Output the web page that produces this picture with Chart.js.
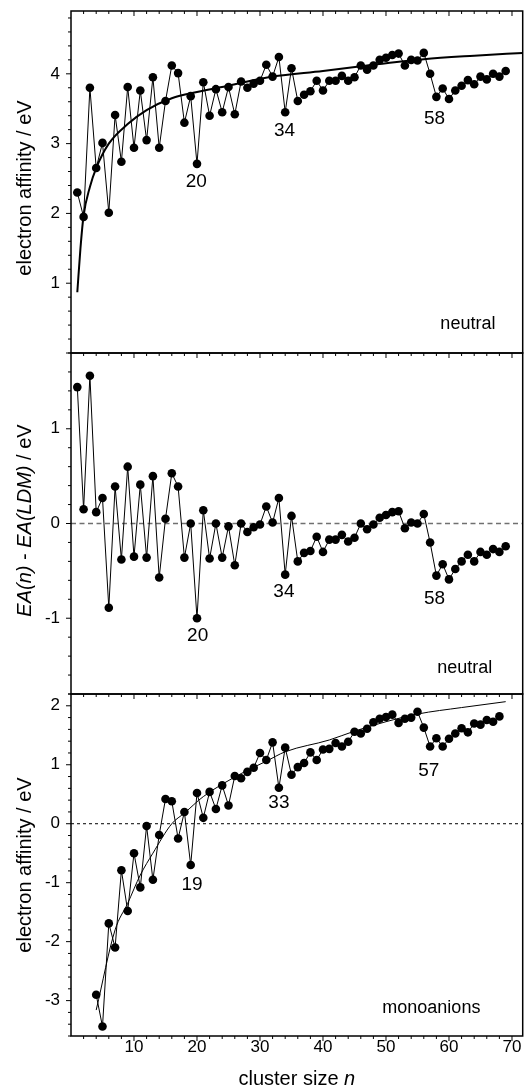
<!DOCTYPE html>
<html>
<head>
<meta charset="utf-8">
<title>Electron affinities of clusters</title>
<script src="https://cdn.jsdelivr.net/npm/chart.js@4.4.1/dist/chart.umd.min.js"></script>
<style>
  html, body { margin: 0; padding: 0; background: #fff; }
  #figure { position: relative; width: 527px; height: 1092px; overflow: hidden; background: #fff; }
  #figure canvas { position: absolute; left: 0; }
</style>
</head>
<body>
<div id="figure">
  <canvas id="neutralChart" width="527" height="362" style="top:0px"></canvas>
  <canvas id="diffChart" width="527" height="352" style="top:348px"></canvas>
  <canvas id="anionChart" width="527" height="403" style="top:689px"></canvas>
</div>
<script>
// cluster size n
const clusterSize = [1, 2, 3, 4, 5, 6, 7, 8, 9, 10,
    11, 12, 13, 14, 15, 16, 17, 18, 19, 20,
    21, 22, 23, 24, 25, 26, 27, 28, 29, 30,
    31, 32, 33, 34, 35, 36, 37, 38, 39, 40,
    41, 42, 43, 44, 45, 46, 47, 48, 49, 50,
    51, 52, 53, 54, 55, 56, 57, 58, 59, 60,
    61, 62, 63, 64, 65, 66, 67, 68, 69];

// electron affinity of the neutral clusters (eV), n = 1..69
const neutralEA = [2.30, 1.95, 3.80, 2.65, 3.01, 2.01, 3.41, 2.74, 3.81, 2.94,
    3.76, 3.05, 3.95, 2.94, 3.61, 4.12, 4.01, 3.30, 3.68, 2.71,
    3.88, 3.40, 3.78, 3.45, 3.81, 3.42, 3.89, 3.80, 3.86, 3.90,
    4.13, 3.96, 4.24, 3.45, 4.08, 3.61, 3.70, 3.75, 3.90, 3.76,
    3.90, 3.90, 3.97, 3.90, 3.95, 4.12, 4.06, 4.12, 4.20, 4.23,
    4.27, 4.29, 4.12, 4.20, 4.19, 4.30, 4.00, 3.67, 3.79, 3.64,
    3.76, 3.83, 3.91, 3.85, 3.96, 3.92, 4.00, 3.96, 4.04];

// EA(n) - EA(LDM) for the neutrals (eV), n = 1..69
const neutralDiff = [1.44, 0.15, 1.56, 0.12, 0.27, -0.89, 0.39, -0.38, 0.60, -0.35,
    0.41, -0.36, 0.50, -0.57, 0.05, 0.53, 0.39, -0.36, 0.00, -1.00,
    0.14, -0.37, 0.00, -0.36, -0.03, -0.44, 0.00, -0.09, -0.04, -0.01,
    0.18, 0.01, 0.27, -0.54, 0.08, -0.40, -0.31, -0.29, -0.14, -0.30,
    -0.17, -0.17, -0.12, -0.19, -0.15, 0.00, -0.06, -0.01, 0.06, 0.09,
    0.12, 0.13, -0.05, 0.01, 0.00, 0.10, -0.20, -0.55, -0.43, -0.59,
    -0.48, -0.40, -0.33, -0.40, -0.30, -0.33, -0.27, -0.30, -0.24];

// electron affinity of the monoanions (eV), n = 4..68
const anionSize = clusterSize.slice(3, 68);
const anionEA = [-2.90, -3.44, -1.69, -2.10, -0.79, -1.48, -0.50, -1.08, -0.04, -0.95,
    -0.19, 0.42, 0.38, -0.25, 0.20, -0.70, 0.52, 0.10, 0.54, 0.25,
    0.65, 0.31, 0.81, 0.77, 0.88, 0.95, 1.20, 1.08, 1.38, 0.61,
    1.29, 0.83, 0.96, 1.03, 1.21, 1.08, 1.26, 1.27, 1.37, 1.31,
    1.39, 1.56, 1.53, 1.61, 1.72, 1.78, 1.81, 1.85, 1.71, 1.78,
    1.80, 1.90, 1.63, 1.31, 1.45, 1.31, 1.44, 1.53, 1.62, 1.55,
    1.70, 1.68, 1.76, 1.73, 1.82];

// liquid drop model curves
const ldmNeutralN  = [1, 1.5, 2, 3, 4, 6, 9, 12, 16, 20, 25, 32, 40, 47, 56, 64, 71.7];
const ldmNeutralEA = [0.87, 1.50, 1.97, 2.38, 2.65, 3.00, 3.28, 3.48, 3.65, 3.74, 3.83, 3.96, 4.04, 4.12, 4.21, 4.26, 4.30];
const ldmAnionN  = [4, 7, 9, 11, 13, 16, 18, 21, 27, 31, 34, 41, 45, 50, 55, 62, 69];
const ldmAnionEA = [-3.16, -1.80, -1.35, -0.87, -0.50, 0.00, 0.18, 0.46, 0.85, 1.06, 1.22, 1.42, 1.57, 1.73, 1.86, 1.97, 2.07];

// tick labels
const xTickLabels = [10, 20, 30, 40, 50, 60, 70];
const neutralTicks = [1, 2, 3, 4];
const diffTicks = [-1, 0, 1];
const anionTicks = [-3, -2, -1, 0, 1, 2];

// magic numbers and panel tags
const neutralNotes = [
    { text: '20', n: 19.9, v: 2.46 },
    { text: '34', n: 33.9, v: 3.19 },
    { text: '58', n: 57.7, v: 3.35 },
    { text: 'neutral', n: 63.0, v: 0.42, tag: true }
];
const diffNotes = [
    { text: '20', n: 20.1, v: -1.18 },
    { text: '34', n: 33.8, v: -0.725 },
    { text: '58', n: 57.7, v: -0.795 },
    { text: 'neutral', n: 62.5, v: -1.527, tag: true }
];
const anionNotes = [
    { text: '19', n: 19.2, v: -1.04 },
    { text: '33', n: 33.0, v: 0.35 },
    { text: '57', n: 56.8, v: 0.90 },
    { text: 'monoanions', n: 57.2, v: -3.13, tag: true }
];

const X_MIN = 0;
const X_MAX = 71.7;
const FONT = '"Liberation Sans", Arial, Helvetica, sans-serif';

Chart.defaults.font.family = FONT;
Chart.defaults.color = '#000';

function toPoints(xs, ys) {
    return ys.map(function(y, i) { return { x: xs[i], y: y }; });
}

/**
 * Frame around the plot area plus major/minor tick marks
 */
const framePlugin = {
    id: 'frame',
    afterDraw: function(chart, args, opts) {
        const ctx = chart.ctx;
        const a = chart.chartArea;
        const x = chart.scales.x;
        const y = chart.scales.y;
        ctx.save();
        ctx.strokeStyle = '#000';
        ctx.lineWidth = 1;
        ctx.beginPath();
        // left axis, ticks pointing out
        for (let k = Math.ceil(y.min / 0.2 - 1e-6); k * 0.2 <= y.max + 1e-6; k++) {
            const v = k * 0.2;
            const major = Math.abs(v - Math.round(v)) < 1e-6;
            const py = y.getPixelForValue(v);
            ctx.moveTo(a.left, py);
            ctx.lineTo(a.left - (major ? 5 : 3), py);
        }
        // bottom ticks out, top ticks in
        for (let k = 1; k * 2 < x.max; k++) {
            const major = (k % 5 === 0);
            const px = x.getPixelForValue(k * 2);
            const len = major ? 5 : 3;
            ctx.moveTo(px, a.bottom);
            ctx.lineTo(px, a.bottom + len);
            if (opts.topTicks) {
                ctx.moveTo(px, a.top);
                ctx.lineTo(px, a.top + len);
            }
        }
        ctx.stroke();
        ctx.lineWidth = 1.5;
        ctx.strokeRect(a.left, a.top, a.right - a.left, a.bottom - a.top);
        ctx.restore();
    }
};

function drawRichText(ctx, parts, size) {
    let total = 0;
    parts.forEach(function(p) {
        ctx.font = (p.italic ? 'italic ' : '') + size + 'px ' + FONT;
        p.w = ctx.measureText(p.text).width;
        total += p.w;
    });
    let cx = -total / 2;
    parts.forEach(function(p) {
        ctx.font = (p.italic ? 'italic ' : '') + size + 'px ' + FONT;
        ctx.fillText(p.text, cx, 0);
        cx += p.w;
    });
}

/**
 * Axis titles and the in-plot annotations
 */
const textPlugin = {
    id: 'panelText',
    afterDraw: function(chart, args, opts) {
        const ctx = chart.ctx;
        const a = chart.chartArea;
        const x = chart.scales.x;
        const y = chart.scales.y;
        ctx.save();
        ctx.fillStyle = '#000';
        ctx.textAlign = 'left';
        ctx.textBaseline = 'middle';

        // y title, rotated
        ctx.save();
        ctx.translate(25, (a.top + a.bottom) / 2 + (opts.titleShift || 0));
        ctx.rotate(-Math.PI / 2);
        drawRichText(ctx, opts.yTitle, 20);
        ctx.restore();

        if (opts.xTitle) {
            ctx.save();
            ctx.textBaseline = 'alphabetic';
            ctx.translate((a.left + a.right) / 2, opts.xTitleY);
            drawRichText(ctx, opts.xTitle, 20);
            ctx.restore();
        }

        ctx.textAlign = 'center';
        (opts.notes || []).forEach(function(note) {
            ctx.font = (note.tag ? 18 : 19) + 'px ' + FONT;
            ctx.fillText(note.text, x.getPixelForValue(note.n), y.getPixelForValue(note.v));
        });
        ctx.restore();
    }
};

function makePanel(canvasId, cfg) {
    const datasets = [{
        data: toPoints(cfg.n, cfg.values),
        showLine: true,
        borderColor: '#000',
        borderWidth: 1,
        tension: 0,
        pointRadius: 4.3,
        pointBackgroundColor: '#000',
        pointBorderWidth: 0
    }];
    if (cfg.fit) {
        datasets.push({
            data: toPoints(cfg.fit.n, cfg.fit.values),
            showLine: true,
            borderColor: '#000',
            borderWidth: cfg.fit.width,
            cubicInterpolationMode: 'monotone',
            pointRadius: 0
        });
    }
    if (cfg.zero) {
        datasets.push({
            data: [{ x: X_MIN, y: 0 }, { x: X_MAX, y: 0 }],
            showLine: true,
            borderColor: cfg.zero.color,
            borderWidth: cfg.zero.width,
            borderDash: cfg.zero.dash,
            pointRadius: 0
        });
    }

    return new Chart(document.getElementById(canvasId), {
        type: 'scatter',
        data: { datasets: datasets },
        options: {
            responsive: false,
            animation: false,
            events: [],
            layout: { padding: cfg.padding },
            plugins: {
                legend: { display: false },
                tooltip: { enabled: false },
                frame: { topTicks: cfg.topTicks },
                panelText: {
                    yTitle: cfg.yTitle,
                    xTitle: cfg.xTitle,
                    xTitleY: cfg.xTitleY,
                    titleShift: cfg.titleShift,
                    notes: cfg.notes
                }
            },
            scales: {
                x: {
                    type: 'linear',
                    min: X_MIN,
                    max: X_MAX,
                    display: !!cfg.xTitle,
                    grid: { display: false, drawTicks: false, tickLength: 0 },
                    border: { display: false },
                    ticks: { font: { size: 17 }, padding: 1, maxRotation: 0, autoSkip: false,
                        callback: function(v) { return String(v); } },
                    afterBuildTicks: function(s) {
                        s.ticks = xTickLabels.map(function(v) { return { value: v }; });
                    },
                    afterFit: function(s) {
                        s.height = cfg.xAxisHeight || 0;
                        s.paddingLeft = 0;
                        s.paddingRight = 0;
                    }
                },
                y: {
                    type: 'linear',
                    min: cfg.yMin,
                    max: cfg.yMax,
                    grid: { display: false, drawTicks: false, tickLength: 0 },
                    border: { display: false },
                    ticks: { font: { size: 17 }, padding: 11,
                        callback: function(v) { return String(v); } },
                    afterBuildTicks: function(s) {
                        s.ticks = cfg.yTicks.map(function(v) { return { value: v }; });
                    },
                    afterFit: function(s) {
                        s.width = 71;
                        s.paddingTop = 0;
                        s.paddingBottom = 0;
                    }
                }
            }
        },
        plugins: [framePlugin, textPlugin]
    });
}

const eaTitle = [{ text: 'electron affinity / eV' }];

makePanel('neutralChart', {
    n: clusterSize, values: neutralEA,
    fit: { n: ldmNeutralN, values: ldmNeutralEA, width: 2 },
    yMin: 0, yMax: 4.9, yTicks: neutralTicks,
    padding: { top: 11, right: 4, bottom: 9, left: 0 },
    topTicks: true,
    yTitle: eaTitle, titleShift: 6,
    notes: neutralNotes
});

makePanel('diffChart', {
    n: clusterSize, values: neutralDiff,
    zero: { color: '#707070', width: 1.5, dash: [5, 3.5] },
    yMin: -1.8, yMax: 1.8, yTicks: diffTicks,
    padding: { top: 5, right: 4, bottom: 6, left: 0 },
    yTitle: [
        { text: 'EA(n)', italic: true },
        { text: ' - ' },
        { text: 'EA(LDM)', italic: true },
        { text: ' / eV' }
    ],
    titleShift: -3,
    notes: diffNotes
});

makePanel('anionChart', {
    n: anionSize, values: anionEA,
    fit: { n: ldmAnionN, values: ldmAnionEA, width: 1 },
    zero: { color: '#000', width: 1, dash: [3, 3] },
    yMin: -3.6, yMax: 2.2, yTicks: anionTicks,
    padding: { top: 5, right: 4, bottom: 0, left: 0 },
    xAxisHeight: 56,
    xTitle: [{ text: 'cluster size ' }, { text: 'n', italic: true }],
    xTitleY: 396,
    yTitle: eaTitle, titleShift: 0,
    notes: anionNotes
});
</script>
</body>
</html>
